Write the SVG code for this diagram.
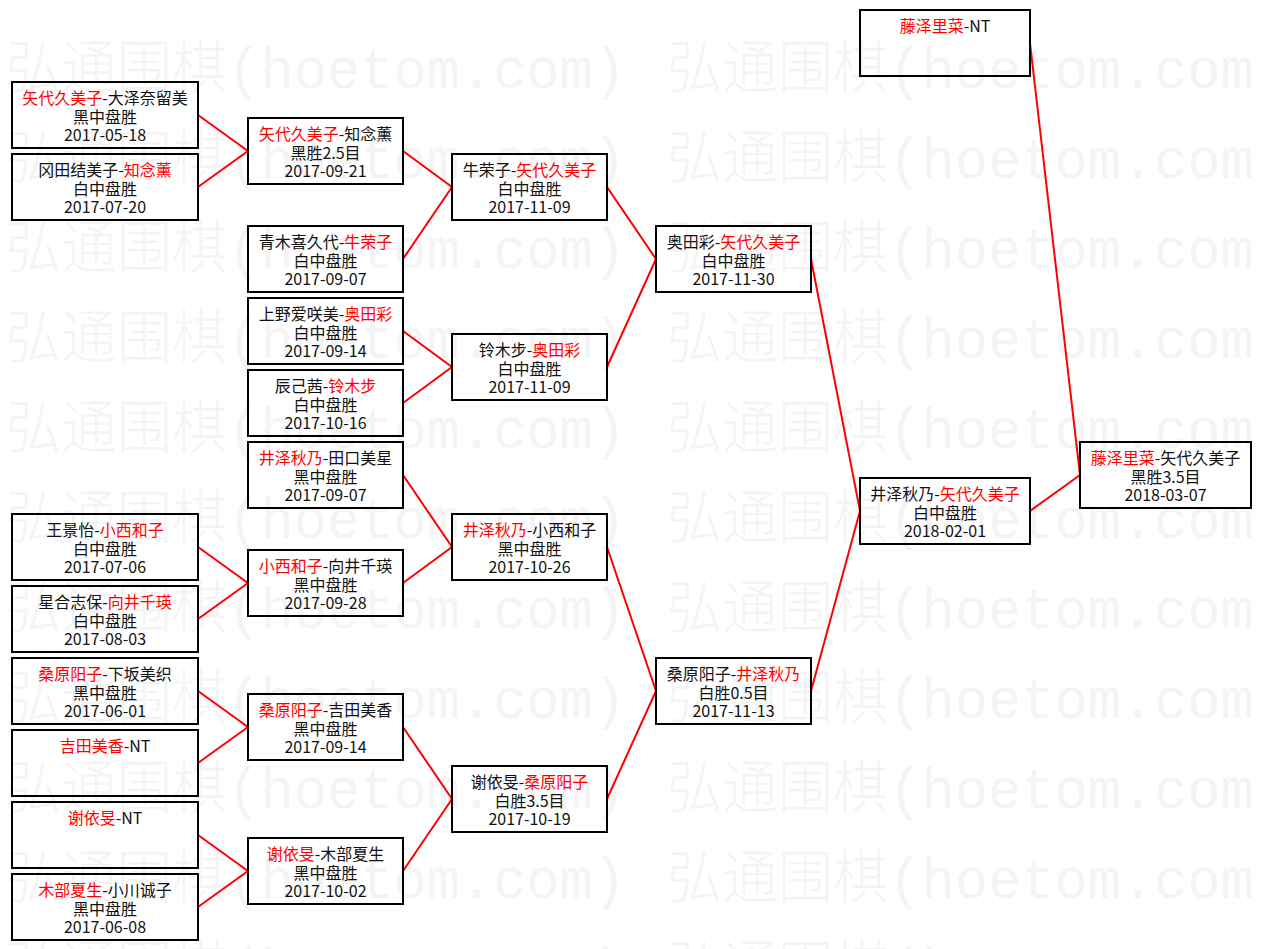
<svg xmlns="http://www.w3.org/2000/svg" width="1261" height="949" viewBox="0 0 1261 949">
<defs>
<style>
.bg{fill:#ffffff}
.wm{font-family:"Liberation Mono","Noto Sans CJK SC",monospace;font-size:58px;font-weight:200;fill:#f4f4f4}
.box{fill:none;stroke:#000;stroke-width:2}
.t{font-family:"Noto Sans CJK SC","Noto Sans CJK JP",sans-serif;font-size:16px;fill:#111;text-anchor:middle}
.r{fill:#f00}
.c line{stroke:#f00;stroke-width:2;stroke-linecap:round}
</style>
</defs>
<rect class="bg" x="0" y="0" width="1261" height="949"/>
<g id="watermark">
<text class="wm" x="6" y="88" textLength="620" lengthAdjust="spacingAndGlyphs">弘通围棋(hoetom.com)</text>
<text class="wm" x="667" y="88" textLength="620" lengthAdjust="spacingAndGlyphs">弘通围棋(hoetom.com)</text>
<text class="wm" x="6" y="178" textLength="620" lengthAdjust="spacingAndGlyphs">弘通围棋(hoetom.com)</text>
<text class="wm" x="667" y="178" textLength="620" lengthAdjust="spacingAndGlyphs">弘通围棋(hoetom.com)</text>
<text class="wm" x="6" y="268" textLength="620" lengthAdjust="spacingAndGlyphs">弘通围棋(hoetom.com)</text>
<text class="wm" x="667" y="268" textLength="620" lengthAdjust="spacingAndGlyphs">弘通围棋(hoetom.com)</text>
<text class="wm" x="6" y="358" textLength="620" lengthAdjust="spacingAndGlyphs">弘通围棋(hoetom.com)</text>
<text class="wm" x="667" y="358" textLength="620" lengthAdjust="spacingAndGlyphs">弘通围棋(hoetom.com)</text>
<text class="wm" x="6" y="448" textLength="620" lengthAdjust="spacingAndGlyphs">弘通围棋(hoetom.com)</text>
<text class="wm" x="667" y="448" textLength="620" lengthAdjust="spacingAndGlyphs">弘通围棋(hoetom.com)</text>
<text class="wm" x="6" y="538" textLength="620" lengthAdjust="spacingAndGlyphs">弘通围棋(hoetom.com)</text>
<text class="wm" x="667" y="538" textLength="620" lengthAdjust="spacingAndGlyphs">弘通围棋(hoetom.com)</text>
<text class="wm" x="6" y="628" textLength="620" lengthAdjust="spacingAndGlyphs">弘通围棋(hoetom.com)</text>
<text class="wm" x="667" y="628" textLength="620" lengthAdjust="spacingAndGlyphs">弘通围棋(hoetom.com)</text>
<text class="wm" x="6" y="718" textLength="620" lengthAdjust="spacingAndGlyphs">弘通围棋(hoetom.com)</text>
<text class="wm" x="667" y="718" textLength="620" lengthAdjust="spacingAndGlyphs">弘通围棋(hoetom.com)</text>
<text class="wm" x="6" y="808" textLength="620" lengthAdjust="spacingAndGlyphs">弘通围棋(hoetom.com)</text>
<text class="wm" x="667" y="808" textLength="620" lengthAdjust="spacingAndGlyphs">弘通围棋(hoetom.com)</text>
<text class="wm" x="6" y="898" textLength="620" lengthAdjust="spacingAndGlyphs">弘通围棋(hoetom.com)</text>
<text class="wm" x="667" y="898" textLength="620" lengthAdjust="spacingAndGlyphs">弘通围棋(hoetom.com)</text>
<text class="wm" x="6" y="988" textLength="620" lengthAdjust="spacingAndGlyphs">弘通围棋(hoetom.com)</text>
<text class="wm" x="667" y="988" textLength="620" lengthAdjust="spacingAndGlyphs">弘通围棋(hoetom.com)</text>
</g>
<g id="connectors" class="c">
<line x1="198" y1="115" x2="248" y2="151"/>
<line x1="198" y1="187" x2="248" y2="151"/>
<line x1="198" y1="547" x2="248" y2="583"/>
<line x1="198" y1="619" x2="248" y2="583"/>
<line x1="198" y1="691" x2="248" y2="727"/>
<line x1="198" y1="763" x2="248" y2="727"/>
<line x1="198" y1="835" x2="248" y2="871"/>
<line x1="198" y1="907" x2="248" y2="871"/>
<line x1="403" y1="151" x2="452" y2="187"/>
<line x1="403" y1="259" x2="452" y2="187"/>
<line x1="403" y1="331" x2="452" y2="367"/>
<line x1="403" y1="403" x2="452" y2="367"/>
<line x1="403" y1="475" x2="452" y2="547"/>
<line x1="403" y1="583" x2="452" y2="547"/>
<line x1="403" y1="727" x2="452" y2="799"/>
<line x1="403" y1="871" x2="452" y2="799"/>
<line x1="607" y1="187" x2="656" y2="259"/>
<line x1="607" y1="367" x2="656" y2="259"/>
<line x1="607" y1="547" x2="656" y2="691"/>
<line x1="607" y1="799" x2="656" y2="691"/>
<line x1="811" y1="259" x2="860" y2="511"/>
<line x1="811" y1="691" x2="860" y2="511"/>
<line x1="1030" y1="511" x2="1080" y2="475"/>
<line x1="1030" y1="43" x2="1080" y2="475"/>
</g>
<g id="n1"><rect class="box" x="12" y="82" width="186" height="66"/><text class="t" x="105" y="104"><tspan class="r">矢代久美子</tspan>-大泽奈留美</text><text class="t" x="105" y="123">黑中盘胜</text><text class="t" x="105" y="141">2017-05-18</text></g>
<g id="n2"><rect class="box" x="12" y="154" width="186" height="66"/><text class="t" x="105" y="176">冈田结美子-<tspan class="r">知念薰</tspan></text><text class="t" x="105" y="195">白中盘胜</text><text class="t" x="105" y="213">2017-07-20</text></g>
<g id="n3"><rect class="box" x="12" y="514" width="186" height="66"/><text class="t" x="105" y="536">王景怡-<tspan class="r">小西和子</tspan></text><text class="t" x="105" y="555">白中盘胜</text><text class="t" x="105" y="573">2017-07-06</text></g>
<g id="n4"><rect class="box" x="12" y="586" width="186" height="66"/><text class="t" x="105" y="608">星合志保-<tspan class="r">向井千瑛</tspan></text><text class="t" x="105" y="627">白中盘胜</text><text class="t" x="105" y="645">2017-08-03</text></g>
<g id="n5"><rect class="box" x="12" y="658" width="186" height="66"/><text class="t" x="105" y="680"><tspan class="r">桑原阳子</tspan>-下坂美织</text><text class="t" x="105" y="699">黑中盘胜</text><text class="t" x="105" y="717">2017-06-01</text></g>
<g id="n6"><rect class="box" x="12" y="730" width="186" height="66"/><text class="t" x="105" y="752"><tspan class="r">吉田美香</tspan>-NT</text></g>
<g id="n7"><rect class="box" x="12" y="802" width="186" height="66"/><text class="t" x="105" y="824"><tspan class="r">谢依旻</tspan>-NT</text></g>
<g id="n8"><rect class="box" x="12" y="874" width="186" height="66"/><text class="t" x="105" y="896"><tspan class="r">木部夏生</tspan>-小川诚子</text><text class="t" x="105" y="915">黑中盘胜</text><text class="t" x="105" y="933">2017-06-08</text></g>
<g id="m1"><rect class="box" x="248" y="118" width="155" height="66"/><text class="t" x="325.5" y="140"><tspan class="r">矢代久美子</tspan>-知念薰</text><text class="t" x="325.5" y="159">黑胜2.5目</text><text class="t" x="325.5" y="177">2017-09-21</text></g>
<g id="m2"><rect class="box" x="248" y="226" width="155" height="66"/><text class="t" x="325.5" y="248">青木喜久代-<tspan class="r">牛荣子</tspan></text><text class="t" x="325.5" y="267">白中盘胜</text><text class="t" x="325.5" y="285">2017-09-07</text></g>
<g id="m3"><rect class="box" x="248" y="298" width="155" height="66"/><text class="t" x="325.5" y="320">上野爱咲美-<tspan class="r">奥田彩</tspan></text><text class="t" x="325.5" y="339">白中盘胜</text><text class="t" x="325.5" y="357">2017-09-14</text></g>
<g id="m4"><rect class="box" x="248" y="370" width="155" height="66"/><text class="t" x="325.5" y="392">辰己茜-<tspan class="r">铃木步</tspan></text><text class="t" x="325.5" y="411">白中盘胜</text><text class="t" x="325.5" y="429">2017-10-16</text></g>
<g id="m5"><rect class="box" x="248" y="442" width="155" height="66"/><text class="t" x="325.5" y="464"><tspan class="r">井泽秋乃</tspan>-田口美星</text><text class="t" x="325.5" y="483">黑中盘胜</text><text class="t" x="325.5" y="501">2017-09-07</text></g>
<g id="m6"><rect class="box" x="248" y="550" width="155" height="66"/><text class="t" x="325.5" y="572"><tspan class="r">小西和子</tspan>-向井千瑛</text><text class="t" x="325.5" y="591">黑中盘胜</text><text class="t" x="325.5" y="609">2017-09-28</text></g>
<g id="m7"><rect class="box" x="248" y="694" width="155" height="66"/><text class="t" x="325.5" y="716"><tspan class="r">桑原阳子</tspan>-吉田美香</text><text class="t" x="325.5" y="735">黑中盘胜</text><text class="t" x="325.5" y="753">2017-09-14</text></g>
<g id="m8"><rect class="box" x="248" y="838" width="155" height="66"/><text class="t" x="325.5" y="860"><tspan class="r">谢依旻</tspan>-木部夏生</text><text class="t" x="325.5" y="879">黑中盘胜</text><text class="t" x="325.5" y="897">2017-10-02</text></g>
<g id="q1"><rect class="box" x="452" y="154" width="155" height="66"/><text class="t" x="529.5" y="176">牛荣子-<tspan class="r">矢代久美子</tspan></text><text class="t" x="529.5" y="195">白中盘胜</text><text class="t" x="529.5" y="213">2017-11-09</text></g>
<g id="q2"><rect class="box" x="452" y="334" width="155" height="66"/><text class="t" x="529.5" y="356">铃木步-<tspan class="r">奥田彩</tspan></text><text class="t" x="529.5" y="375">白中盘胜</text><text class="t" x="529.5" y="393">2017-11-09</text></g>
<g id="q3"><rect class="box" x="452" y="514" width="155" height="66"/><text class="t" x="529.5" y="536"><tspan class="r">井泽秋乃</tspan>-小西和子</text><text class="t" x="529.5" y="555">黑中盘胜</text><text class="t" x="529.5" y="573">2017-10-26</text></g>
<g id="q4"><rect class="box" x="452" y="766" width="155" height="66"/><text class="t" x="529.5" y="788">谢依旻-<tspan class="r">桑原阳子</tspan></text><text class="t" x="529.5" y="807">白胜3.5目</text><text class="t" x="529.5" y="825">2017-10-19</text></g>
<g id="s1"><rect class="box" x="656" y="226" width="155" height="66"/><text class="t" x="733.5" y="248">奥田彩-<tspan class="r">矢代久美子</tspan></text><text class="t" x="733.5" y="267">白中盘胜</text><text class="t" x="733.5" y="285">2017-11-30</text></g>
<g id="s2"><rect class="box" x="656" y="658" width="155" height="66"/><text class="t" x="733.5" y="680">桑原阳子-<tspan class="r">井泽秋乃</tspan></text><text class="t" x="733.5" y="699">白胜0.5目</text><text class="t" x="733.5" y="717">2017-11-13</text></g>
<g id="f0"><rect class="box" x="860" y="10" width="170" height="66"/><text class="t" x="945" y="32"><tspan class="r">藤泽里菜</tspan>-NT</text></g>
<g id="f1"><rect class="box" x="860" y="478" width="170" height="66"/><text class="t" x="945" y="500">井泽秋乃-<tspan class="r">矢代久美子</tspan></text><text class="t" x="945" y="519">白中盘胜</text><text class="t" x="945" y="537">2018-02-01</text></g>
<g id="w"><rect class="box" x="1080" y="442" width="171" height="66"/><text class="t" x="1165.5" y="464"><tspan class="r">藤泽里菜</tspan>-矢代久美子</text><text class="t" x="1165.5" y="483">黑胜3.5目</text><text class="t" x="1165.5" y="501">2018-03-07</text></g>
</svg>
